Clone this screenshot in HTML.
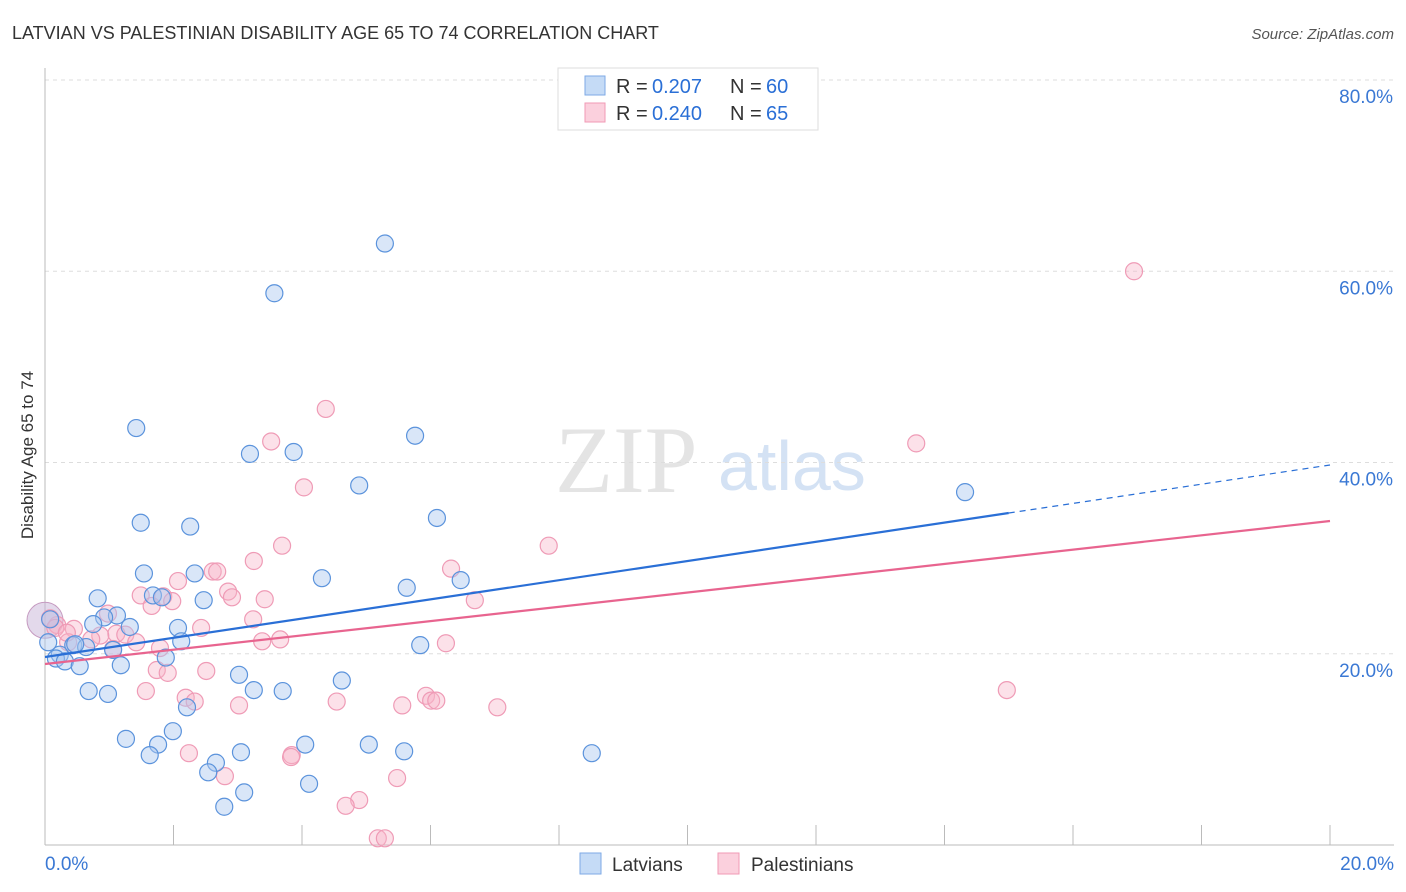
<!DOCTYPE html>
<html><head><meta charset="utf-8"><style>
body{margin:0;background:#fff;font-family:"Liberation Sans",sans-serif}
#c{position:absolute;left:0;top:0}
</style></head><body>
<svg id="c" width="1406" height="892">
<text x="12" y="39" font-size="18" fill="#333">LATVIAN VS PALESTINIAN DISABILITY AGE 65 TO 74 CORRELATION CHART</text>
<text x="1394" y="39" font-size="15" fill="#555" font-style="italic" text-anchor="end">Source: ZipAtlas.com</text>
<text x="555" y="492" font-size="95" fill="#e4e4e4" font-family="Liberation Serif,serif">ZIP</text>
<text x="718" y="490" font-size="70" fill="#d4e2f4">atlas</text>
<g id="grid"></g><g id="axes"></g><g id="pts"></g><g id="lines"></g>
<text transform="translate(33,455) rotate(-90)" font-size="17" fill="#333" text-anchor="middle">Disability Age 65 to 74</text>
<g>
<rect x="558" y="68" width="260" height="62" fill="#fff" stroke="#ddd"/>
<rect x="585" y="76" width="20" height="19" fill="#c5dbf6" stroke="#7eaae6"/>
<rect x="585" y="103" width="20" height="19" fill="#fbd0dd" stroke="#f09ab5"/>
<text x="616" y="93" font-size="20" fill="#333">R =</text>
<text x="652" y="93" font-size="20" fill="#2a6fd6">0.207</text>
<text x="730" y="93" font-size="20" fill="#333">N =</text>
<text x="766" y="93" font-size="20" fill="#2a6fd6">60</text>
<text x="616" y="120" font-size="20" fill="#333">R =</text>
<text x="652" y="120" font-size="20" fill="#2a6fd6">0.240</text>
<text x="730" y="120" font-size="20" fill="#333">N =</text>
<text x="766" y="120" font-size="20" fill="#2a6fd6">65</text>
</g>
<g>
<rect x="580" y="853" width="21" height="21" fill="#c5dbf6" stroke="#7eaae6"/>
<text x="612" y="871" font-size="19" fill="#333">Latvians</text>
<rect x="718" y="853" width="21" height="21" fill="#fbd0dd" stroke="#f09ab5"/>
<text x="751" y="871" font-size="19" fill="#333">Palestinians</text>
</g>
</svg>
<script>
const yTicks=[20,40,60,80];
const yTickLabels=["20.0%","40.0%","60.0%","80.0%"];
const latviansX=[5.29,3.57,1.42,3.19,3.87,5.76,4.89,14.32,1.49,6.10,2.26,1.54,2.33,4.31,5.63,6.47,0.82,1.68,1.82,2.47,1.12,0.92,0.75,1.32,2.07,2.12,0.44,0.64,1.06,0.23,0.17,0.31,0.54,1.18,1.88,5.84,3.02,4.62,0.68,0.98,3.25,3.70,2.21,1.99,1.26,1.76,1.63,3.05,4.05,5.04,5.59,8.51,2.66,2.54,4.11,3.10,2.79,0.08,0.05,0.47];
const latviansY=[62.9,57.7,43.6,40.9,41.1,42.8,37.6,36.9,33.7,34.2,33.3,28.4,28.4,27.9,26.9,27.7,25.8,26.1,25.9,25.6,24.0,23.8,23.1,22.8,22.7,21.3,20.9,20.7,20.4,19.9,19.5,19.2,18.7,18.8,19.6,20.9,17.8,17.2,16.1,15.8,16.2,16.1,14.4,11.9,11.1,10.5,9.4,9.7,10.5,10.5,9.8,9.6,8.6,7.6,6.4,5.5,4.0,23.6,21.2,21.0];
const palX=[16.95,4.37,13.56,3.52,4.03,7.84,3.69,3.25,6.32,2.61,2.68,2.07,1.84,1.49,2.85,2.91,1.98,3.42,1.66,6.69,0.98,3.24,2.43,1.11,1.25,1.42,0.86,0.45,0.19,0.72,0.36,3.38,3.66,6.24,1.06,1.79,1.74,1.91,2.51,1.57,2.19,2.33,3.02,4.54,5.56,5.93,6.01,6.09,7.04,14.97,2.24,3.84,3.83,2.80,5.48,4.89,4.68,5.18,5.29,0.08,0.16,0.34];
const palY=[60.0,45.6,42.0,42.2,37.4,31.3,31.3,29.7,28.9,28.6,28.6,27.6,26.0,26.1,26.5,25.9,25.5,25.7,25.0,25.6,24.2,23.6,22.7,22.1,22.0,21.2,21.9,22.6,23.0,21.5,21.2,21.3,21.5,21.1,20.5,20.6,18.3,18.0,18.2,16.1,15.4,15.0,14.6,15.0,14.6,15.6,15.1,15.1,14.4,16.2,9.6,9.4,9.2,7.2,7.0,4.7,4.1,0.7,0.7,23.7,22.7,22.2];
const trendLat=[19.66,39.74];
const trendPal=[18.93,33.88];
const ns='http://www.w3.org/2000/svg';
const X0=45,X1=1330,Y0=845,PY=9.5625;
const sx=v=>X0+(v/20)*(X1-X0);
const sy=v=>Y0-v*PY;
function mk(t,a,p){const e=document.createElementNS(ns,t);for(const k in a)e.setAttribute(k,a[k]);p.appendChild(e);return e;}
const grid=document.getElementById('grid'),axes=document.getElementById('axes'),pts=document.getElementById('pts'),lines=document.getElementById('lines');
yTicks.forEach((t,i)=>{
 const l=mk('line',{x1:45,x2:1394,y1:sy(t),y2:sy(t),stroke:'#ddd','stroke-dasharray':'4,4'},grid);
 
 
 const tx=mk('text',{x:1393,y:sy(t)+23,'font-size':19,fill:'#3a78d4','text-anchor':'end'},grid);
 tx.textContent=yTickLabels[i];
 
 
});
const ax=mk('line',{x1:45,x2:45,y1:68,y2:845,stroke:'#bbb'},axes);


const bx=mk('line',{x1:45,x2:1394,y1:845,y2:845,stroke:'#bbb'},axes);


for(let i=1;i<=10;i++){
 const t=mk('line',{x1:sx(i*2),x2:sx(i*2),y1:825,y2:845,stroke:'#bbb'},axes);
 
 
}
const xl=mk('text',{x:45,y:870,'font-size':19,fill:'#3a78d4'},axes);xl.textContent='0.0%';


const xr=mk('text',{x:1394,y:870,'font-size':19,fill:'#3a78d4','text-anchor':'end'},axes);xr.textContent='20.0%';


const big=mk('circle',{cx:45,cy:sy(23.5),r:18,fill:'rgba(200,180,215,0.5)',stroke:'#c59ac0'},pts);


palX.forEach((v,i)=>{
 const c=mk('circle',{cx:sx(v),cy:sy(palY[i]),r:8.5,fill:'rgba(248,180,200,0.4)',stroke:'#ef9bb6','stroke-width':1.2},pts);
 
 
});
latviansX.forEach((v,i)=>{
 const c=mk('circle',{cx:sx(v),cy:sy(latviansY[i]),r:8.5,fill:'rgba(170,200,240,0.45)',stroke:'#5b93dc','stroke-width':1.2},pts);
 
 
});
const fl=t=>trendLat[0]+(trendLat[1]-trendLat[0])*t/20;
const xs=15.0;
const l1=mk('line',{x1:sx(0),y1:sy(fl(0)),x2:sx(xs),y2:sy(fl(xs)),stroke:'#2a6fd6','stroke-width':2.2},lines);


const l2=mk('line',{x1:sx(xs),y1:sy(fl(xs)),x2:sx(20),y2:sy(fl(20)),stroke:'#2a6fd6','stroke-width':1.2,'stroke-dasharray':'6,5'},lines);


const l3=mk('line',{x1:sx(0),y1:sy(trendPal[0]),x2:sx(20),y2:sy(trendPal[1]),stroke:'#e8648f','stroke-width':2.2},lines);


</script>
</body></html>
